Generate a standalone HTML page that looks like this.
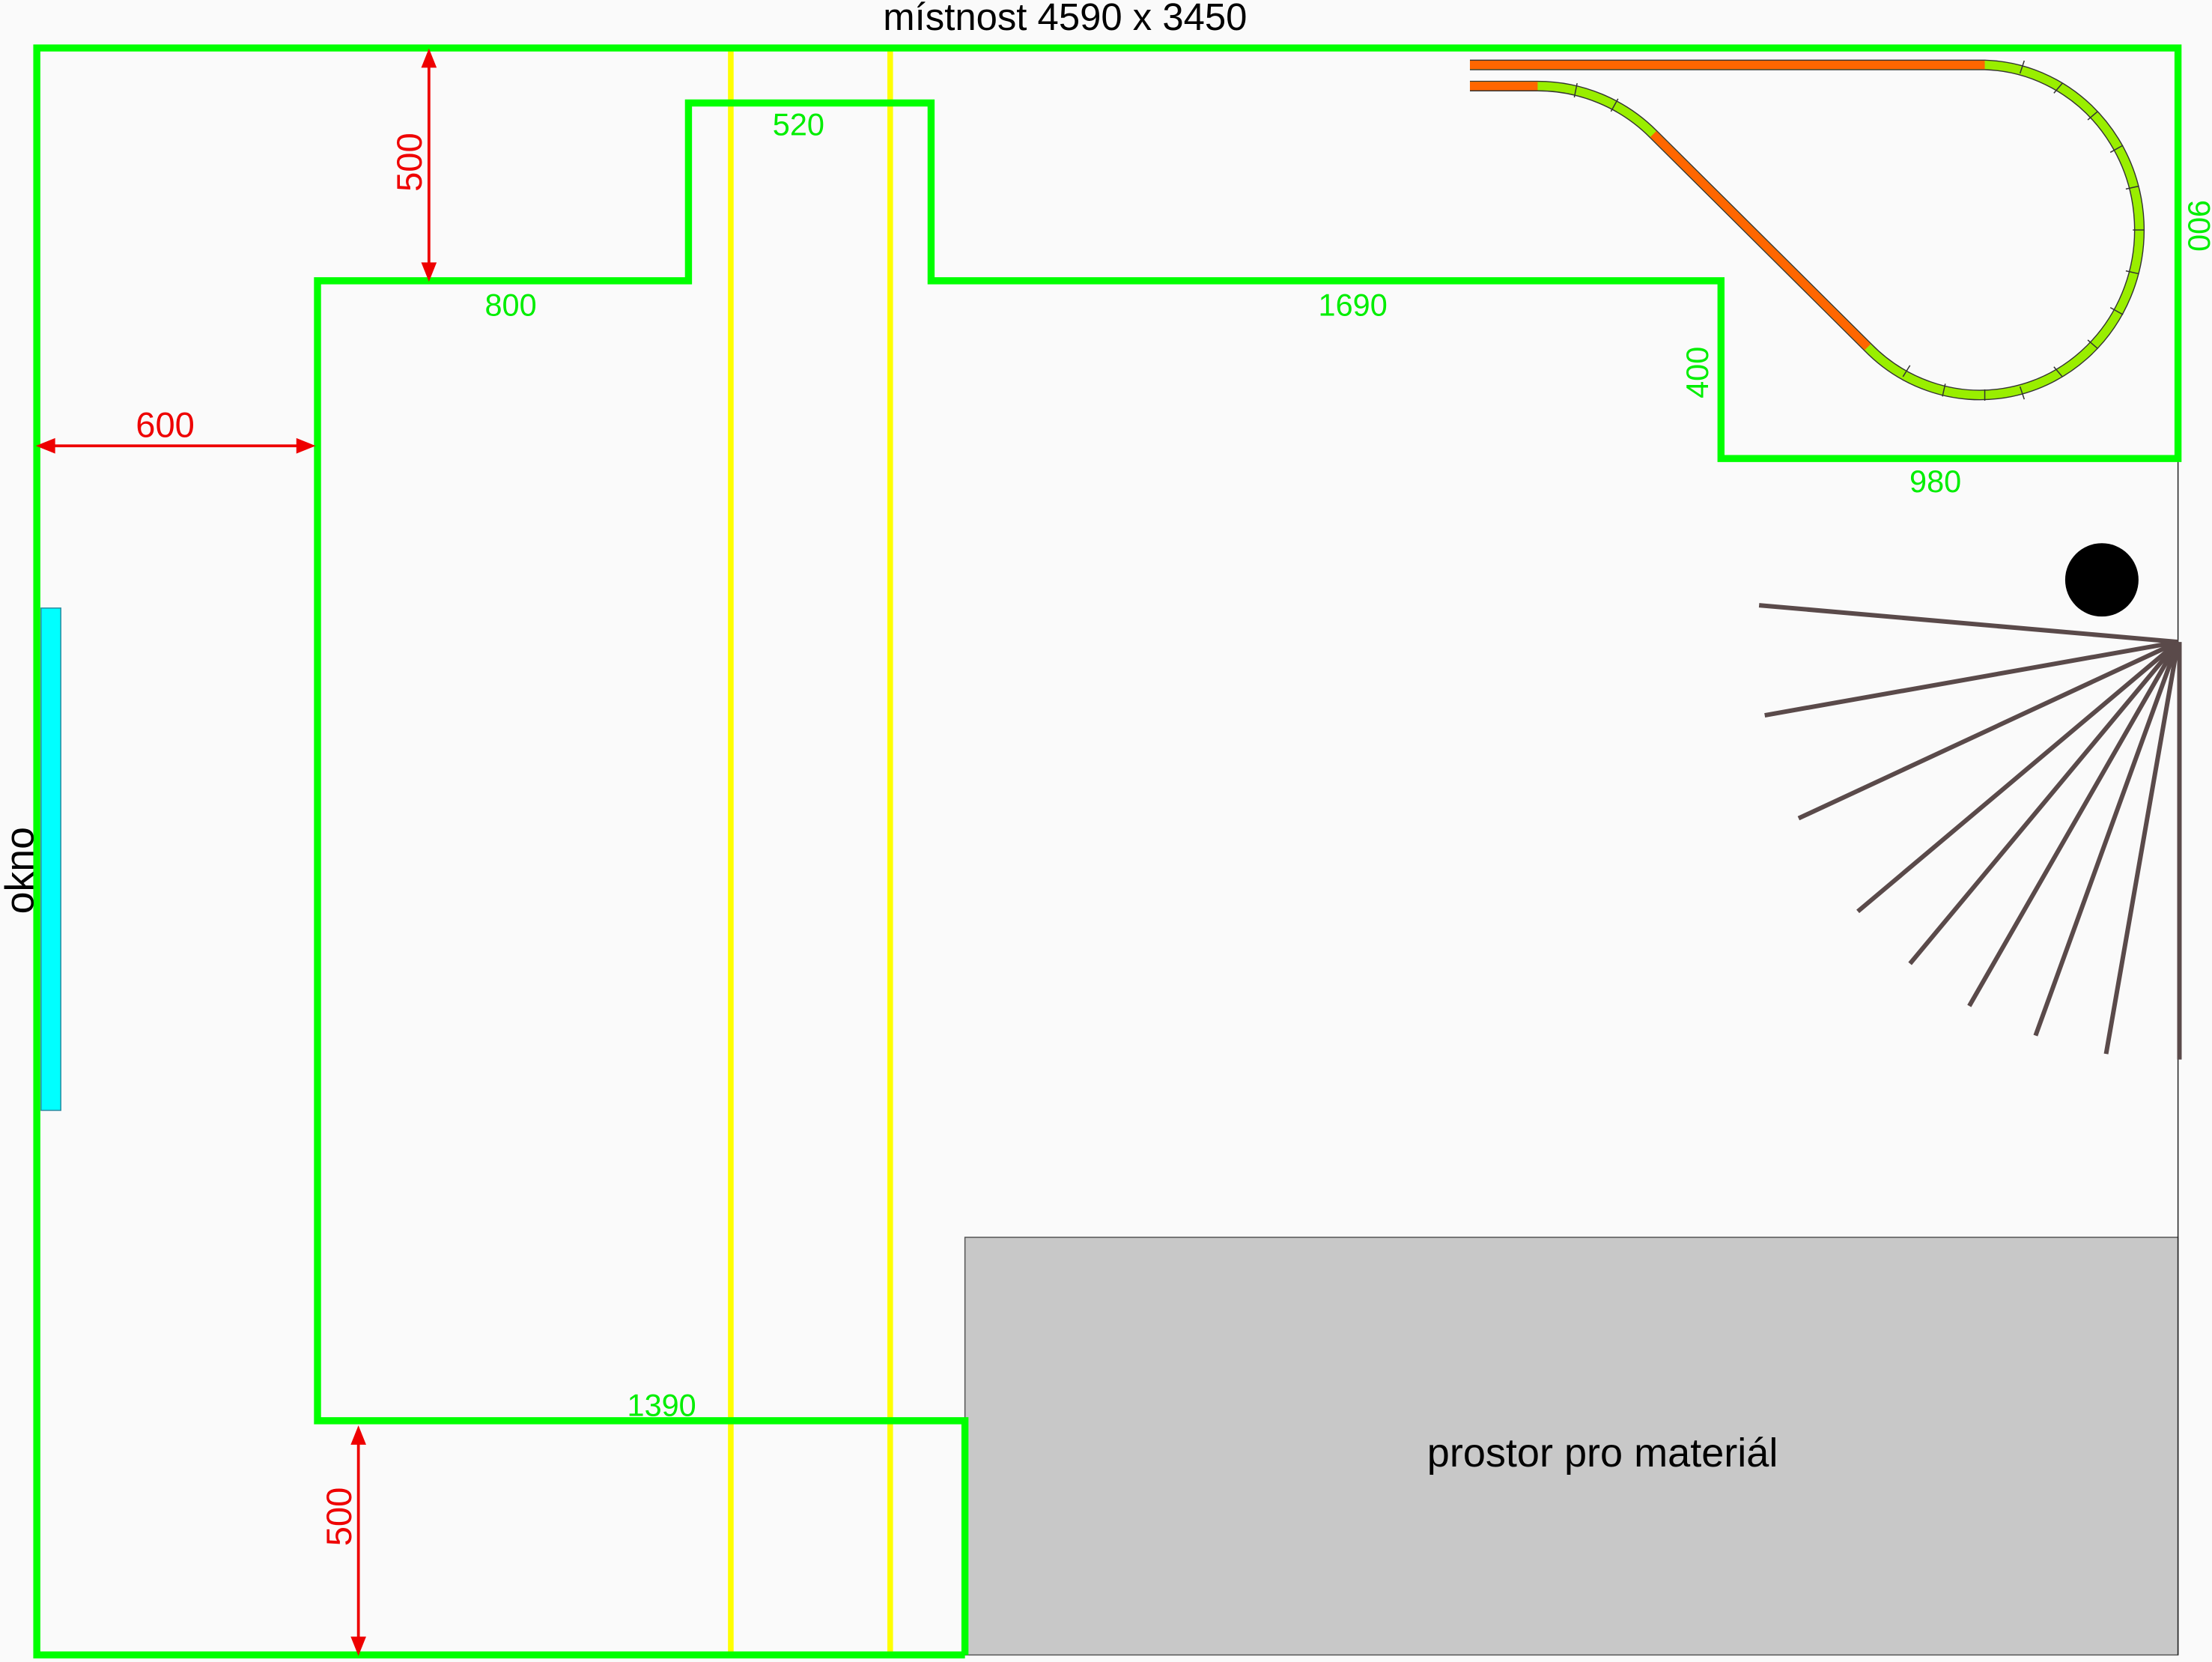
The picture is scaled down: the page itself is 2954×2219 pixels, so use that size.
<!DOCTYPE html>
<html><head><meta charset="utf-8"><style>html,body{margin:0;padding:0;background:#fafafa}svg{display:block}</style></head>
<body>
<svg width="2954" height="2219" viewBox="0 0 1568 1178" xmlns="http://www.w3.org/2000/svg" font-family="Liberation Sans, sans-serif">
<rect width="1568" height="1178" fill="#fafafa"/>
<rect x="684" y="877" width="860" height="296" fill="#c8c8c8" stroke="#555" stroke-width="0.8"/>
<line x1="1544" y1="325" x2="1544" y2="1173" stroke="#222" stroke-width="0.8"/>
<line x1="518" y1="34" x2="518" y2="1173" stroke="#ffff00" stroke-width="4"/>
<line x1="631" y1="34" x2="631" y2="1173" stroke="#ffff00" stroke-width="4"/>
<rect x="29" y="431" width="14" height="356" fill="#00ffff" stroke="#2a8aa0" stroke-width="0.8"/>
<path d="M684,1173 H26 V34 H1544 V325 H1220 V199 H660 V73 H488 V199 H225 V1007 H684 V1173" fill="none" stroke="#00ff00" stroke-width="5"/>
<g stroke="#e00" stroke-width="2" fill="#e00">
<line x1="304" y1="44" x2="304" y2="190"/><polygon points="304,37 300,47 308,47"/><polygon points="304,197 300,187 308,187"/>
<line x1="35" y1="316" x2="214" y2="316"/><polygon points="28,316 38,312 38,320"/><polygon points="221,316 211,312 211,320"/>
<line x1="254" y1="1020" x2="254" y2="1164"/><polygon points="254,1013 250,1023 258,1023"/><polygon points="254,1171 250,1161 258,1161"/>
</g>
<g fill="#e00" font-size="25">
<text x="117" y="301" text-anchor="middle" dominant-baseline="central">600</text>
<text transform="translate(290,115) rotate(-90)" text-anchor="middle" dominant-baseline="central">500</text>
<text transform="translate(240,1075) rotate(-90)" text-anchor="middle" dominant-baseline="central">500</text>
</g>
<path d="M1042,61 H1090 A116,116 0 0 1 1172,95 L1324,246 A113,117 0 1 0 1407,46 H1042" fill="none" stroke="#333" stroke-width="7.5"/>
<path d="M1042,61 H1090 A116,116 0 0 1 1172,95 L1324,246 A113,117 0 1 0 1407,46 H1042" fill="none" stroke="#99ee00" stroke-width="6"/>
<g stroke="#ff6600" stroke-width="6" fill="none"><line x1="1042" y1="61" x2="1090" y2="61"/><line x1="1172" y1="95" x2="1324" y2="246"/><line x1="1042" y1="46" x2="1407" y2="46"/></g>
<g stroke="#333" stroke-width="0.8">
<line x1="1118" y1="59" x2="1116" y2="69"/><line x1="1147" y1="70" x2="1142" y2="79"/>
<line x1="1435" y1="43" x2="1432" y2="52"/><line x1="1462" y1="59" x2="1456" y2="66"/><line x1="1487" y1="79" x2="1480" y2="85"/><line x1="1505" y1="103" x2="1496" y2="108"/><line x1="1516" y1="132" x2="1507" y2="134"/><line x1="1520" y1="163" x2="1512" y2="163"/><line x1="1516" y1="194" x2="1507" y2="192"/><line x1="1505" y1="223" x2="1496" y2="218"/><line x1="1487" y1="247" x2="1480" y2="241"/><line x1="1462" y1="267" x2="1456" y2="260"/><line x1="1435" y1="283" x2="1432" y2="274"/><line x1="1407" y1="284" x2="1407" y2="276"/><line x1="1377" y1="281" x2="1379" y2="272"/><line x1="1349" y1="267" x2="1354" y2="259"/>
</g>
<g stroke="#5a4a4a" stroke-width="3.2" stroke-linecap="butt">
<line x1="1544" y1="455" x2="1247" y2="429"/><line x1="1544" y1="455" x2="1251" y2="507"/><line x1="1544" y1="455" x2="1275" y2="580"/><line x1="1544" y1="455" x2="1317" y2="646"/><line x1="1544" y1="455" x2="1354" y2="683"/><line x1="1544" y1="455" x2="1396" y2="713"/><line x1="1544" y1="455" x2="1443" y2="734"/><line x1="1544" y1="455" x2="1493" y2="747"/><line x1="1545" y1="455" x2="1545" y2="751"/>
</g>
<ellipse cx="1490" cy="411" rx="26" ry="26" fill="#000"/>
<g fill="#00ee00" font-size="22">
<text x="566" y="88" text-anchor="middle" dominant-baseline="central">520</text>
<text x="362" y="216" text-anchor="middle" dominant-baseline="central">800</text>
<text x="959" y="216" text-anchor="middle" dominant-baseline="central">1690</text>
<text x="1372" y="341" text-anchor="middle" dominant-baseline="central">980</text>
<text x="469" y="996" text-anchor="middle" dominant-baseline="central">1390</text>
<text transform="translate(1203,264) rotate(-90)" text-anchor="middle" dominant-baseline="central">400</text>
<text transform="translate(1559,160) rotate(90)" text-anchor="middle" dominant-baseline="central">900</text>
</g>
<text x="755" y="12" font-size="27" text-anchor="middle" dominant-baseline="central" fill="#000">místnost 4590 x 3450</text>
<text transform="translate(14,617) rotate(-90)" font-size="28.5" text-anchor="middle" dominant-baseline="central" fill="#000">okno</text>
<text x="1136" y="1030" font-size="28.7" text-anchor="middle" dominant-baseline="central" fill="#000">prostor pro materiál</text>
</svg>
</body></html>
